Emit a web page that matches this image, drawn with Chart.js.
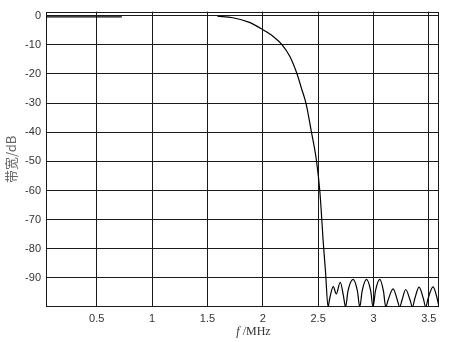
<!DOCTYPE html>
<html>
<head>
<meta charset="utf-8">
<script src="https://cdn.jsdelivr.net/npm/chart.js@4.4.1/dist/chart.umd.min.js"></script>
<style>
    html, body { margin: 0; padding: 0; background: #fff; }
    #wrap { width: 450px; height: 342px; position: relative; }
</style>
</head>
<body>
<div id="wrap"><canvas id="chart"></canvas></div>
<script>
// frequency response
var freqMHz = [0.042, 0.40, 0.727, 1.2,
    1.59, 1.73, 1.88, 2.00, 2.10, 2.175, 2.245, 2.31, 2.35, 2.39,
    2.44, 2.486, 2.515, 2.53, 2.545, 2.567, 2.59,
    2.605, 2.637, 2.664, 2.700, 2.728, 2.748,
    2.770, 2.816, 2.855, 2.876,
    2.898, 2.937, 2.975, 2.996,
    3.018, 3.057, 3.090, 3.111,
    3.133, 3.177, 3.215, 3.237,
    3.259, 3.291, 3.330, 3.352,
    3.374, 3.412, 3.450, 3.472,
    3.494, 3.538, 3.575, 3.592];
var gainDb = [-0.4, -0.4, -0.4, null,
    -0.2, -0.7, -2.3, -4.8, -7.3, -10, -14, -20, -25, -30,
    -40, -50, -60, -68, -77, -88, -100,
    -97, -93, -95.5, -91.5, -96, -100,
    -94.5, -90.5, -94.5, -100,
    -94.5, -90.5, -94.5, -100,
    -94.5, -90.5, -94.5, -100,
    -97.5, -93.8, -97.5, -100,
    -97.5, -94, -97.5, -100,
    -97, -93.2, -97, -100,
    -97, -93.1, -97, -100];
var xTicks = [0.5, 1, 1.5, 2, 2.5, 3, 3.5];
var yTicks = [-90, -80, -70, -60, -50, -40, -30, -20, -10, 0];

var tickFont = { family: '"Liberation Sans", Arial, sans-serif', size: 11 };

// box round the plot area
var frameBox = {
    id: 'frameBox',
    beforeDatasetsDraw: function (chart) {
        var a = chart.chartArea;
        var ctx = chart.ctx;
        ctx.save();
        ctx.strokeStyle = '#1a1a1a';
        ctx.lineWidth = 1;
        ctx.strokeRect(Math.round(a.left) + 0.5, Math.round(a.top) + 0.5,
            Math.round(a.right - a.left) - 1, Math.round(a.bottom - a.top) - 1);
        ctx.restore();
    }
};

// x title with italic f
var xTitle = {
    id: 'xTitle',
    afterDraw: function (chart) {
        var a = chart.chartArea;
        var ctx = chart.ctx;
        ctx.save();
        ctx.fillStyle = '#333';
        ctx.textBaseline = 'alphabetic';
        var fFont = 'italic 12px "Liberation Serif", serif';
        var rFont = '12px "Liberation Serif", serif';
        ctx.font = fFont;
        var w1 = ctx.measureText('f').width;
        ctx.font = rFont;
        var w2 = ctx.measureText(' /MHz').width;
        var x0 = (a.left + a.right) / 2 + 11 - (w1 + w2) / 2;
        var y0 = 335;
        ctx.font = fFont;
        ctx.fillText('f', x0, y0);
        ctx.font = rFont;
        ctx.fillText(' /MHz', x0 + w1, y0);
        ctx.restore();
    }
};

var points = freqMHz.map(function (f, i) {
    return { x: f, y: gainDb[i] };
});

var chart = new Chart(document.getElementById('chart'), {
    type: 'line',
    data: {
        datasets: [{
            data: points,
            borderColor: '#000',
            borderWidth: 1.2,
            pointRadius: 0,
            fill: false,
            spanGaps: false,
            cubicInterpolationMode: 'monotone'
        }]
    },
    options: {
        responsive: true,
        maintainAspectRatio: false,
        animation: false,
        devicePixelRatio: 1,
        layout: { padding: { top: 10, right: 11, left: 0, bottom: 0 } },
        plugins: {
            legend: { display: false },
            tooltip: { enabled: false }
        },
        scales: {
            x: {
                type: 'linear',
                min: 0.042,
                max: 3.592,
                afterBuildTicks: function (s) {
                    s.ticks = xTicks.map(function (v) { return { value: v }; });
                },
                afterFit: function (s) { s.height = 35; },
                grid: { color: '#1a1a1a', lineWidth: 1, drawTicks: false },
                border: { display: false },
                ticks: {
                    padding: 5,
                    maxRotation: 0,
                    color: '#333',
                    font: tickFont,
                    callback: function (v) { return String(v); }
                }
            },
            y: {
                min: -100,
                max: 1.4,
                afterBuildTicks: function (s) {
                    s.ticks = yTicks.map(function (v) { return { value: v }; });
                },
                afterFit: function (s) { s.width = 46; },
                grid: { color: '#1a1a1a', lineWidth: 1, drawTicks: false },
                border: { display: false },
                ticks: {
                    padding: 5,
                    color: '#333',
                    font: tickFont,
                    callback: function (v) { return String(v); }
                },
                title: {
                    display: true,
                    text: '带宽/dB',
                    color: '#666',
                    font: { family: '"Noto Sans CJK SC", sans-serif', size: 13 },
                    padding: { top: 3, bottom: 0 }
                }
            }
        }
    },
    plugins: [frameBox, xTitle]
});
</script>
</body>
</html>
